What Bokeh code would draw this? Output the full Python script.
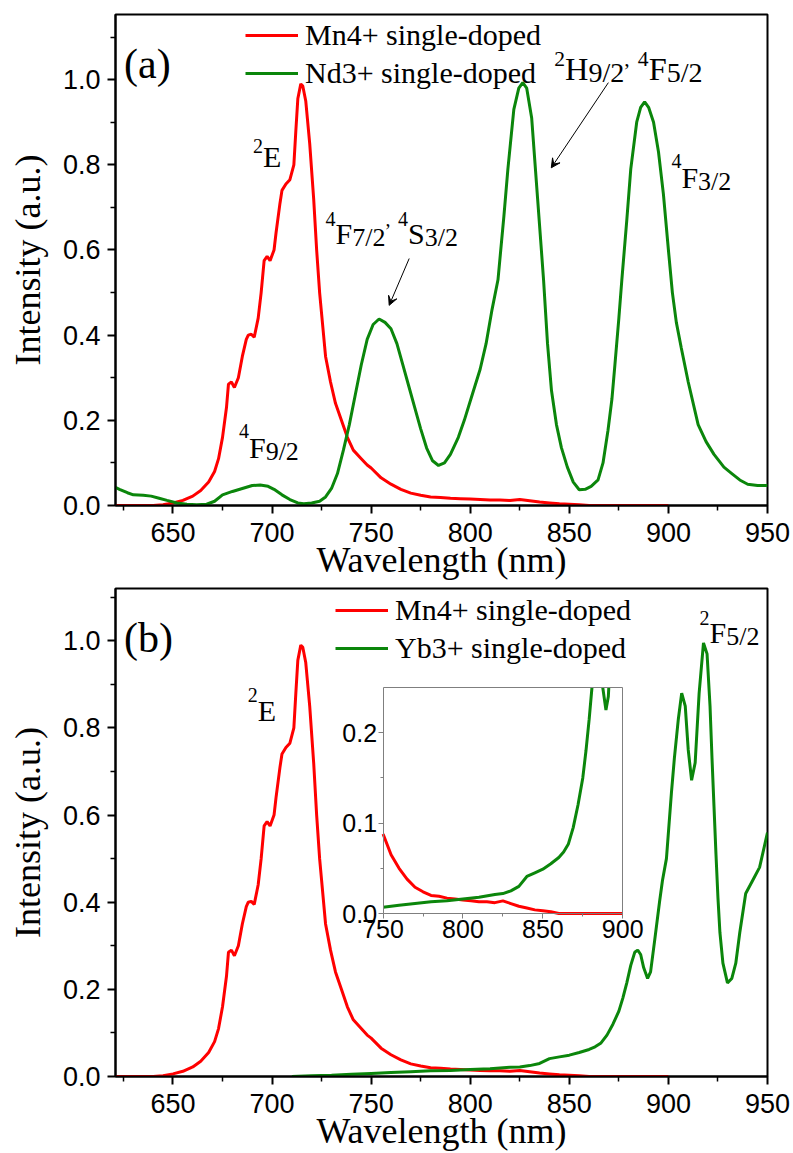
import numpy as np
from bokeh.plotting import figure
from bokeh.models import (ColumnDataSource, FixedTicker, NumeralTickFormatter, Legend, LegendItem,
                          Arrow, VeeHead, Range1d, LinearAxis)
from bokeh.layouts import column
from bokeh.embed import file_html
from bokeh.resources import INLINE
from bokeh.core.properties import value

# ---------------- data ----------------
mn_wl = [620, 630, 640, 645, 650, 655, 660, 664, 668, 671, 673, 675, 677, 678, 679.5, 681, 683, 685, 687,
         688, 689.5, 691, 693, 694.5, 696, 697.5, 699, 701, 702, 704, 705, 707, 709, 711, 712, 713, 714.5,
         715.5, 717, 719, 721, 722.5, 724, 725, 727, 729.5, 732, 735, 738, 741, 745, 748, 750, 755, 760,
         765, 770, 775, 780, 785, 790, 795, 800, 805, 810, 815, 820, 825, 830, 835, 840, 845, 850, 855,
         860, 870, 880, 890, 900]
mn_int = [0.0, 0.0, 0.0, 0.002, 0.006, 0.012, 0.022, 0.035, 0.055, 0.08, 0.11, 0.16, 0.23, 0.285, 0.29,
          0.277, 0.30, 0.35, 0.39, 0.40, 0.402, 0.395, 0.44, 0.50, 0.575, 0.585, 0.575, 0.60, 0.64, 0.71,
          0.74, 0.755, 0.765, 0.80, 0.88, 0.955, 0.99, 0.985, 0.95, 0.85, 0.72, 0.60, 0.50, 0.45, 0.35,
          0.29, 0.24, 0.20, 0.16, 0.13, 0.11, 0.095, 0.088, 0.065, 0.05, 0.038, 0.029, 0.024, 0.02, 0.019,
          0.017, 0.016, 0.015, 0.014, 0.013, 0.013, 0.012, 0.014, 0.011, 0.008, 0.006, 0.004, 0.003, 0.002,
          0.0, 0.0, 0.0, 0.0, 0.0]

nd_wl = [620, 623, 627, 630, 635, 639, 643, 647, 652, 657, 662, 667, 671, 675, 680, 685, 690, 694, 698,
         701, 705, 709, 713, 716, 720, 724, 727, 730, 733, 736, 739, 742, 745, 748, 751, 754, 757, 760,
         763, 766, 769, 772, 775, 778, 781, 784, 787, 790, 794, 797, 801, 805, 808, 811, 814, 817, 819,
         822, 824.5, 826.5, 828.5, 831, 834, 837, 839, 841, 843.5, 846, 849, 852, 855, 858, 861, 864.5,
         867, 869.5, 871.5, 873, 875, 876.5, 879, 881, 884, 886, 888, 890, 892.5, 895, 897.5, 900, 902,
         904, 906.5, 910, 915, 919, 923, 928, 932, 936, 940, 945, 950]
nd_int = [0.045, 0.038, 0.030, 0.025, 0.024, 0.022, 0.017, 0.012, 0.006, 0.003, 0.002, 0.003, 0.010,
          0.025, 0.033, 0.040, 0.047, 0.048, 0.045, 0.038, 0.025, 0.014, 0.006, 0.004, 0.006, 0.010,
          0.020, 0.040, 0.075, 0.13, 0.19, 0.26, 0.33, 0.39, 0.425, 0.438, 0.43, 0.415, 0.38, 0.33, 0.28,
          0.23, 0.18, 0.135, 0.105, 0.094, 0.10, 0.12, 0.16, 0.20, 0.26, 0.32, 0.38, 0.46, 0.53, 0.68,
          0.79, 0.93, 0.98, 0.993, 0.98, 0.91, 0.72, 0.53, 0.38, 0.27, 0.19, 0.136, 0.09, 0.055, 0.037,
          0.038, 0.045, 0.06, 0.10, 0.176, 0.25, 0.33, 0.44, 0.53, 0.67, 0.79, 0.90, 0.935, 0.948, 0.935,
          0.90, 0.83, 0.73, 0.60, 0.50, 0.43, 0.37, 0.29, 0.19, 0.15, 0.12, 0.09, 0.075, 0.06, 0.05,
          0.047, 0.047]

yb_wl = [710, 720, 730, 740, 750, 760, 770, 780, 790, 800, 810, 820, 825, 830, 835, 840, 845, 850, 855,
         860, 863, 866, 869, 872, 875, 877, 879, 881, 883, 884.5, 886, 887.5, 889.5, 891, 893, 895.5, 897,
         899, 901.5, 903, 905, 906.7, 908.5, 910, 911.7, 913.5, 915.5, 917.7, 919.5, 921, 922, 923, 924,
         925, 926, 927.5, 929.8, 932, 934, 936, 939, 942.5, 946, 949.5, 950]
yb_int = [0.0, 0.002, 0.003, 0.005, 0.007, 0.009, 0.011, 0.013, 0.014, 0.016, 0.018, 0.021, 0.022, 0.025,
          0.030, 0.041, 0.045, 0.049, 0.055, 0.062, 0.068, 0.077, 0.095, 0.12, 0.15, 0.18, 0.215, 0.255,
          0.285, 0.29, 0.28, 0.25, 0.225, 0.24, 0.31, 0.40, 0.45, 0.50, 0.65, 0.73, 0.82, 0.88, 0.85, 0.75,
          0.68, 0.72, 0.88, 0.995, 0.97, 0.85, 0.73, 0.62, 0.51, 0.41, 0.33, 0.26, 0.215, 0.225, 0.26,
          0.33, 0.42, 0.45, 0.48, 0.55, 0.56]

x_major = [650, 700, 750, 800, 850, 900, 950]
x_minor = [625, 675, 725, 775, 825, 875, 925]
y_major = [0.0, 0.2, 0.4, 0.6, 0.8, 1.0]
y_minor = [0.1, 0.3, 0.5, 0.7, 0.9, 1.1]
inset_x_major = [750, 800, 850, 900]
inset_x_minor = [775, 825, 875]
inset_y_major = [0.0, 0.1, 0.2]
inset_y_minor = [0.05, 0.15]
inset_xlim = (750, 900)
inset_ylim = (0.0, 0.25)

x_title = "Wavelength (nm)"
y_title = "Intensity (a.u.)"
legend_a = ["Mn4+ single-doped", "Nd3+ single-doped"]
legend_b = ["Mn4+ single-doped", "Yb3+ single-doped"]

RED = "#ff0000"
GREEN = "#0b860b"
SERIF = "Liberation Serif"
SANS = "Liberation Sans"

# ---------------- helpers ----------------
def style(p):
    p.grid.visible = False
    p.outline_line_color = "black"
    p.outline_line_width = 2
    p.outline_line_alpha = 1
    p.background_fill_color = "white"
    p.border_fill_color = "white"
    xa, ya = p.xaxis[0], p.yaxis[0]
    xa.ticker = FixedTicker(ticks=x_major, minor_ticks=x_minor)
    ya.ticker = FixedTicker(ticks=y_major, minor_ticks=y_minor)
    ya.formatter = NumeralTickFormatter(format="0.0")
    for ax in (xa, ya):
        ax.axis_line_width = 2
        ax.axis_line_color = "black"
        ax.major_tick_out = 8
        ax.major_tick_in = 0
        ax.minor_tick_out = 5
        ax.minor_tick_in = 0
        ax.major_tick_line_width = 2
        ax.minor_tick_line_width = 1.5
        ax.major_tick_line_color = "black"
        ax.minor_tick_line_color = "black"
        ax.major_label_text_font = SANS
        ax.major_label_text_font_size = "27px"
        ax.major_label_text_color = "black"
        ax.axis_label_text_font = SERIF
        ax.axis_label_text_font_size = "36px"
        ax.axis_label_text_font_style = "normal"
        ax.axis_label_text_color = "black"
    xa.axis_label = x_title
    ya.axis_label = y_title
    xa.major_label_standoff = 9
    xa.axis_label_standoff = -5
    ya.major_label_standoff = 7
    ya.axis_label_standoff = 12


TW = {'0': 500, '1': 500, '2': 500, '3': 500, '4': 500, '5': 500, '6': 500, '7': 500, '8': 500,
      '9': 500, '/': 278, ',': 250, ' ': 250, 'E': 611, 'F': 556, 'S': 556, 'H': 722}
SIZES = {"main": 30, "sup": 20, "sub": 26, "comma": 20}


def label_rows(rows, x, y, parts, rise=15, drop=4, scale=1.0):
    off = 0.0
    for txt, role in parts:
        fs = SIZES[role] * scale
        yo = {"main": 0, "sup": -rise, "sub": drop, "comma": -rise}[role]
        rows["x"].append(x)
        rows["y"].append(y)
        rows["text"].append(txt)
        rows["xo"].append(off)
        rows["yo"].append(yo)
        rows["fs"].append("%.1fpx" % fs)
        off += sum(TW[c] for c in txt) * fs / 1000.0


def new_rows():
    return {"x": [], "y": [], "text": [], "xo": [], "yo": [], "fs": []}


def clip_top(xs, ys, lo, hi, top):
    ox, oy = [], []
    prev = None
    for x, y in zip(xs, ys):
        if not (lo <= x <= hi):
            continue
        if prev is not None:
            px, py = prev
            if (py <= top) != (y <= top):
                t = (top - py) / (y - py)
                ox.append(px + t * (x - px))
                oy.append(top)
                if y > top:
                    ox.append(np.nan)
                    oy.append(np.nan)
        if y <= top:
            ox.append(x)
            oy.append(y)
        prev = (x, y)
    return np.array(ox, dtype=float), np.array(oy, dtype=float)


def add_legend(p, renderers, labels, loc):
    leg = Legend(items=[LegendItem(label=l, renderers=[r]) for l, r in zip(labels, renderers)],
                 location=loc, padding=0, margin=0, spacing=0, glyph_width=53, glyph_height=38,
                 label_height=38, label_standoff=7, label_text_font=SERIF, label_text_font_size="30px",
                 label_text_color="black", label_text_baseline="middle",
                 border_line_color=None, background_fill_alpha=0)
    p.add_layout(leg)


TEXT_KW = dict(text_font=value(SERIF), text_color="black", text_baseline="alphabetic", text_align="left")

# ---------------- panel (a) ----------------
p1 = figure(width=793, height=584, x_range=(621, 950), y_range=(0, 1.153),
            output_backend="svg", toolbar_location=None,
            min_border_left=115, min_border_right=26, min_border_top=14, min_border_bottom=79)
style(p1)
r1 = p1.line(mn_wl, mn_int, line_color=RED, line_width=3)
r2 = p1.line(nd_wl, nd_int, line_color=GREEN, line_width=3)
add_legend(p1, [r1, r2], legend_a, (130, 413))

rows = new_rows()
label_rows(rows, 690.4, 0.819, [("2", "sup"), ("E", "main")], rise=11)
label_rows(rows, 727.0, 0.638, [("4", "sup"), ("F", "main"), ("7/2", "sub"), (",", "comma"), (" ", "main"),
                                ("4", "sup"), ("S", "main"), ("3/2", "sub")], rise=15)
label_rows(rows, 842.4, 1.026, [("2", "sup"), ("H", "main"), ("9/2", "sub"), (",", "comma"), (" ", "main"),
                                ("4", "sup"), ("F", "main"), ("5/2", "sub")], rise=10, scale=1.08)
label_rows(rows, 901.5, 0.770, [("4", "sup"), ("F", "main"), ("3/2", "sub")], rise=17)
label_rows(rows, 683.3, 0.136, [("4", "sup"), ("F", "main"), ("9/2", "sub")], rise=17)
p1.text(x="x", y="y", text="text", x_offset="xo", y_offset="yo", text_font_size="fs",
        source=ColumnDataSource(rows), **TEXT_KW)
p1.text(x=[625.3], y=[1.037], text=["(a)"], text_font_size="42px", **TEXT_KW)

for xs, ys, xe, ye in [(769.2, 0.58, 759.1, 0.47), (869.7, 0.993, 840.9, 0.793)]:
    p1.add_layout(Arrow(end=VeeHead(size=9, line_color="black", fill_color="black", line_width=1),
                        x_start=xs, y_start=ys, x_end=xe, y_end=ye, line_color="black", line_width=1))

# ---------------- panel (b) ----------------
P2_H, P2_TOP, P2_BOT = 569, 4, 77
p2 = figure(width=793, height=P2_H, x_range=(621, 950), y_range=(0, 1.12),
            output_backend="svg", toolbar_location=None,
            min_border_left=115, min_border_right=25, min_border_top=P2_TOP, min_border_bottom=P2_BOT)
style(p2)
s1 = p2.line(mn_wl, mn_int, line_color=RED, line_width=3)
s2 = p2.line(yb_wl, yb_int, line_color=GREEN, line_width=3)
add_legend(p2, [s1, s2], legend_b, (220, 409))

rows2 = new_rows()
label_rows(rows2, 687.7, 0.841, [("2", "sup"), ("E", "main")], rise=15)
label_rows(rows2, 915.7, 1.018, [("2", "sup"), ("F", "main"), ("5/2", "sub")], rise=15)
p2.text(x="x", y="y", text="text", x_offset="xo", y_offset="yo", text_font_size="fs",
        source=ColumnDataSource(rows2), **TEXT_KW)
p2.text(x=[625.3], y=[1.007], text=["(b)"], text_font_size="42px", **TEXT_KW)

# inset: placed inside the frame (frame-relative pixels: x 268..508, y measured up from frame bottom)
FW = 653.0
FH = float(P2_H - P2_TOP - P2_BOT)
IX0, IX1, IY0, IY1 = 268.0, 508.0, 163.0, 389.0
sx = (inset_xlim[1] - inset_xlim[0]) / (IX1 - IX0)
sy = (inset_ylim[1] - inset_ylim[0]) / (IY1 - IY0)
p2.extra_x_ranges = {"ix": Range1d(inset_xlim[0] - IX0 * sx, inset_xlim[0] + (FW - IX0) * sx)}
p2.extra_y_ranges = {"iy": Range1d(inset_ylim[0] - IY0 * sy, inset_ylim[0] + (FH - IY0) * sy)}

mx, my = clip_top(mn_wl, mn_int, inset_xlim[0], inset_xlim[1], inset_ylim[1])
gx, gy = clip_top(yb_wl, yb_int, inset_xlim[0], inset_xlim[1], inset_ylim[1])
p2.line(mx, my, line_color=RED, line_width=3, x_range_name="ix", y_range_name="iy")
p2.line(gx, gy, line_color=GREEN, line_width=3, x_range_name="ix", y_range_name="iy")

GRAY = "#7f7f7f"


def inset_axis(side, loc, bounds, ticks=None, minor=None, labels=True, fmt=None):
    ax = LinearAxis(x_range_name="ix", y_range_name="iy", fixed_location=loc, bounds=bounds,
                    ticker=FixedTicker(ticks=ticks or [], minor_ticks=minor or []),
                    axis_line_color=GRAY, axis_line_width=1,
                    major_tick_out=5, major_tick_in=0, minor_tick_out=3, minor_tick_in=0,
                    major_tick_line_color=GRAY, minor_tick_line_color=GRAY,
                    major_label_text_font=SANS, major_label_text_font_size="25px",
                    major_label_text_color="black", major_label_standoff=1)
    if fmt is not None:
        ax.formatter = fmt
    if not labels:
        ax.major_label_text_alpha = 0
        ax.major_tick_line_color = None
        ax.minor_tick_line_color = None
    p2.add_layout(ax, side)


inset_axis("left", inset_xlim[0], inset_ylim, inset_y_major, inset_y_minor,
           fmt=NumeralTickFormatter(format="0.0"))
inset_axis("below", inset_ylim[0], inset_xlim, inset_x_major, inset_x_minor)
inset_axis("above", inset_ylim[1], inset_xlim, labels=False)
inset_axis("right", inset_xlim[1], inset_ylim, labels=False)

layout = column(p1, p2)
open("out.html", "w").write(file_html(layout, INLINE))
